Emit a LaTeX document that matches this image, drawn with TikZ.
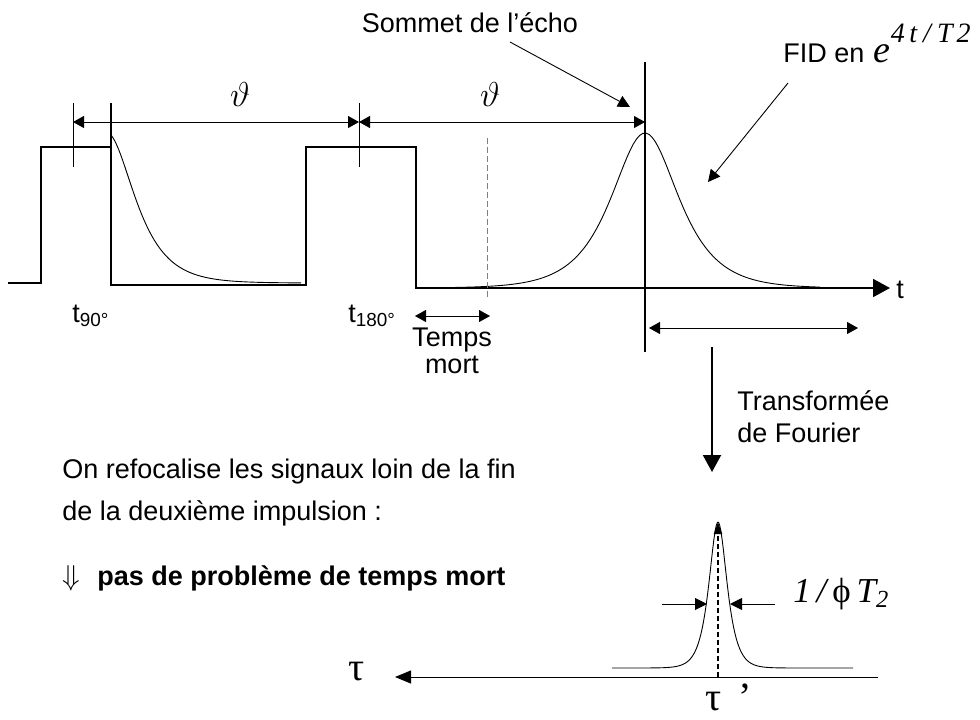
\documentclass[tikz,border=0pt]{standalone}
\usepackage{fontspec}
\setmainfont{Liberation Sans}
\newfontfamily\timesfont{Liberation Serif}
\usetikzlibrary{arrows.meta}

\begin{document}
\begin{tikzpicture}[x=0.5pt,y=-0.5pt,
    every node/.style={font=\fontsize{13.5}{16}\selectfont, inner sep=0pt},
    pulse/.style={line width=0.9pt},
    thinline/.style={line width=0.45pt},
    dimarrow/.style={thinline,{Triangle[length=5.5pt,width=6pt]}-{Triangle[length=5.5pt,width=6pt]}},
    ptr/.style={thinline,-{Triangle[length=6pt,width=6pt]}},
    bigarrow/.style={line width=1pt,-{Triangle[length=8.5pt,width=9pt]}},
    greek/.style={font=\fontsize{20}{20}\selectfont\timesfont}]
\useasboundingbox (0,0) rectangle (980,719);

% sequence d'impulsions + axe t
\coordinate (tend) at (890,288);
\draw[pulse,-{Triangle[length=8.5pt,width=9pt]}] (8,283) -- (41,283) -- (41,147) -- (111,147) -- (111,285) -- (306,285)
    -- (306,147) -- (416,147) -- (416,288) -- (tend);
\draw[pulse] (111,103) -- (111,147);
\draw[pulse] (645,62) -- (645,352);
\node[anchor=west] (t) at (896,290) {t};

% reperes
\coordinate (a90) at (73,122);
\coordinate (a180) at (359,122);
\coordinate (aecho) at (645,122);
\draw[thinline] (73,103) -- (73,167);
\draw[thinline] (359,103) -- (359,167);
\draw[dimarrow] (a90) -- (a180);
\draw[dimarrow] (a180) -- (aecho);
\node (theta1) at (240,94) {\fontsize{19}{19}\selectfont$\vartheta$};
\node (theta2) at (490,94) {\fontsize{19}{19}\selectfont$\vartheta$};
\node[anchor=base west] (t90) at (72,322) {t\textsubscript{90°}};
\node[anchor=base west] (t180) at (348,322) {t\textsubscript{180°}};

% FID et echo
\draw[thinline] plot[domain=0:190,samples=80] ({111+\x},{283-151/cosh((\x+5)/25)});
\draw[thinline] plot[domain=-195:175,samples=120] ({645+\x},{288-155/cosh(\x/30)});
\draw[thinline,gray,dash pattern=on 3pt off 1.5pt] (487,138) -- (487,300);

% temps mort
\coordinate (tm1) at (415,316);
\coordinate (tm2) at (490,316);
\draw[dimarrow] (tm1) -- (tm2);
\node[anchor=base] (temps) at (452,346) {Temps};
\node[anchor=base] (mort) at (452,373) {mort};

\coordinate (d1) at (649,328);
\coordinate (d2) at (858,328);
\draw[dimarrow] (d1) -- (d2);

% legendes du haut
\node[anchor=base] (sommet) at (470,32) {Sommet de l'écho};
\coordinate (sommetfrom) at (510,42);
\coordinate (sommettip) at (630,107);
\draw[ptr] (sommetfrom) -- (sommettip);
\node[anchor=base west] (fid) at (783,62) {FID en \hspace{1pt}{\timesfont\itshape\fontsize{19}{19}\selectfont e}\raisebox{10pt}{\timesfont\itshape\fontsize{14}{14}\selectfont 4\,t\hspace{3pt}/\hspace{3pt}T\hspace{2pt}2}};
\coordinate (fidfrom) at (788,83);
\coordinate (fidtip) at (708,182);
\draw[ptr] (fidfrom) -- (fidtip);

% transformee de Fourier
\coordinate (tf1) at (712,347);
\coordinate (tf2) at (712,472);
\draw[bigarrow] (tf1) -- (tf2);
\node[anchor=base west] (transf) at (737,410) {Transformée};
\node[anchor=base west] (fourier) at (737,442) {de Fourier};

% spectre
\coordinate (tau1) at (878,677);
\coordinate (tau2) at (395,677);
\draw[thinline,-{Triangle[length=8pt,width=6.5pt]}] (tau1) -- (tau2);
\draw[thinline] (612,668) -- plot[domain=-70:70,samples=120] ({718+\x},{668-146/cosh(\x/8)}) -- (853,668);
\draw[line width=1pt,dash pattern=on 2.5pt off 1.5pt,-{Triangle[length=6pt,width=4pt]}] (718,677) -- (718,522);
\coordinate (w1) at (662,604);
\coordinate (w2) at (707,604);
\coordinate (w3) at (775,604);
\coordinate (w4) at (730,604);
\draw[ptr] (w1) -- (w2);
\draw[ptr] (w3) -- (w4);
\node[anchor=base west] (largeur) at (793,602) {\timesfont\itshape\fontsize{17.5}{17.5}\selectfont 1\,/\,{\upshape ϕ}\,T\textsubscript{2}};
\node[greek] (tau) at (357,672) {τ};
\node[greek,anchor=base west] (taup) at (705,710) {τ \,’};

% texte
\node[anchor=base west] (ligne1) at (62,478) {On refocalise les signaux loin de la fin};
\node[anchor=base west] (ligne2) at (62,520) {de la deuxième impulsion :};
\node[anchor=base west] (fleche) at (62,585) {$\Downarrow$};
\node[anchor=base west] (conclu) at (97,585) {\bfseries pas de problème de temps mort};
\end{tikzpicture}
\end{document}
